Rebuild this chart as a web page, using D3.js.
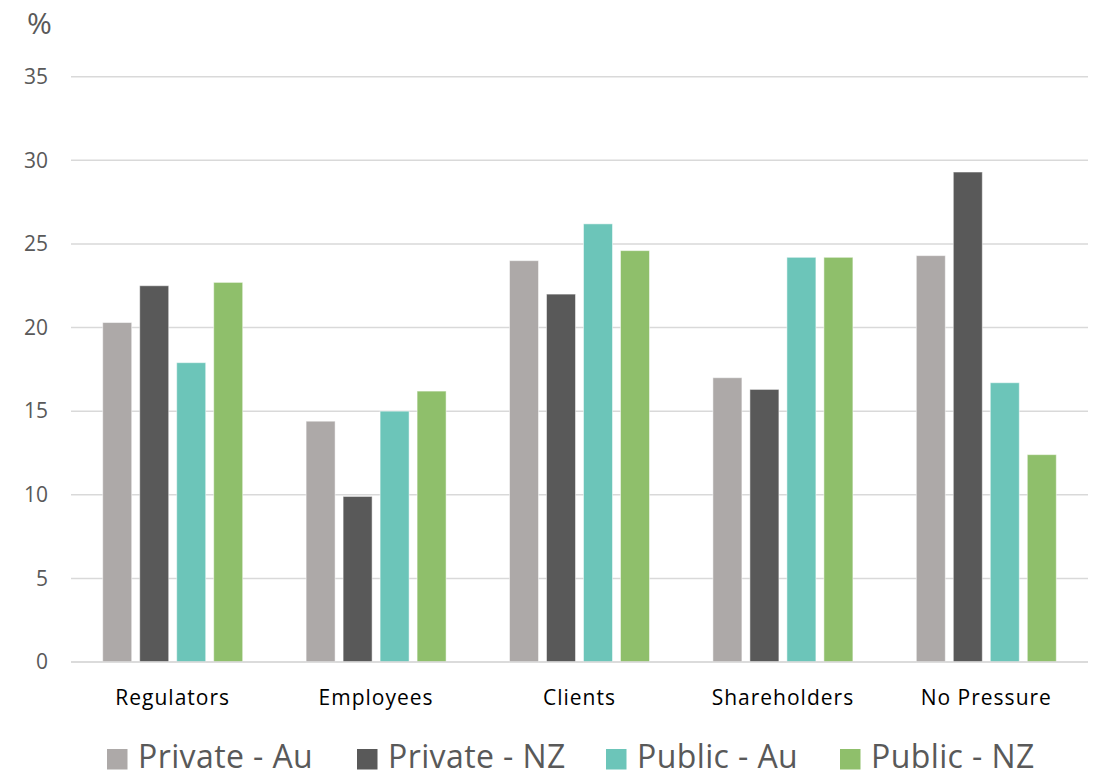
<!DOCTYPE html>
<html>
<head>
<meta charset="utf-8">
<script src="https://cdn.jsdelivr.net/npm/d3@7"></script>
<style>
  html, body { margin: 0; padding: 0; background: #fff; }
  svg { display: block; font-family: "Open Sans", "Noto Sans", sans-serif; }
</style>
</head>
<body>
<svg id="chart" width="1095" height="772"></svg>
<script>
// Survey results: share of respondents (%) naming each source of pressure
const categories = ["Regulators", "Employees", "Clients", "Shareholders", "No Pressure"];
const seriesNames = ["Private - Au", "Private - NZ", "Public - Au", "Public - NZ"];
const privateAu = [20.3, 14.4, 24.0, 17.0, 24.3];
const privateNZ = [22.5, 9.9, 22.0, 16.3, 29.3];
const publicAu  = [17.9, 15.0, 26.2, 24.2, 16.7];
const publicNZ  = [22.7, 16.2, 24.6, 24.2, 12.4];
const yTicks = [0, 5, 10, 15, 20, 25, 30, 35];
const colors = ["#ADA9A8", "#595959", "#6CC5B9", "#8FBF6B"];

const seriesValues = [privateAu, privateNZ, publicAu, publicNZ];

const svg = d3.select("#chart");
const margin = { left: 71, right: 7, top: 76.7 };
const W = 1095;
const x0 = W - margin.right;
const yBase = 662;

const x = d3.scaleBand().domain(categories).range([margin.left, x0]).paddingInner(0).paddingOuter(0);
const x1 = d3.scaleBand().domain(seriesNames)
  .range([0, x.bandwidth()]).paddingInner(0.216).paddingOuter(0.857);
const y = d3.scaleLinear().domain([0, 35]).range([yBase, margin.top]);

// gridlines
svg.append("g")
  .selectAll("line")
  .data(yTicks)
  .join("line")
  .attr("x1", margin.left).attr("x2", x0)
  .attr("y1", d => y(d)).attr("y2", d => y(d))
  .attr("stroke", "#D9D9D9").attr("stroke-width", 1.5);

// y axis labels
const yAxis = d3.axisLeft(y).tickValues(yTicks).tickSize(0).tickPadding(23);
const gy = svg.append("g").attr("transform", `translate(${margin.left},0)`).call(yAxis);
gy.select(".domain").remove();
gy.selectAll("text")
  .attr("fill", "#595959").attr("font-size", 21)
  .attr("font-family", "'Open Sans', sans-serif");

// unit label
svg.append("text").attr("x", 39.5).attr("y", 34).attr("text-anchor", "middle")
  .attr("fill", "#595959").attr("font-size", 30).text("%");

// bars
const groups = svg.append("g").selectAll("g")
  .data(categories)
  .join("g")
  .attr("transform", d => `translate(${x(d)},0)`);

groups.selectAll("rect")
  .data((c, i) => seriesNames.map((s, j) => ({ s, j, v: seriesValues[j][i] })))
  .join("rect")
  .attr("x", d => x1(d.s))
  .attr("width", x1.bandwidth())
  .attr("y", d => y(d.v))
  .attr("height", d => yBase - y(d.v))
  .attr("fill", (d) => colors[d.j])
  .attr("stroke", "#ffffff").attr("stroke-opacity", 0.5).attr("stroke-width", 1);

// baseline
svg.append("line").attr("x1", margin.left).attr("x2", x0)
  .attr("y1", yBase).attr("y2", yBase)
  .attr("stroke", "#D9D9D9").attr("stroke-width", 1.5);

// x axis labels
const xAxis = d3.axisBottom(x).tickSize(0).tickPadding(28);
const gx = svg.append("g").attr("transform", `translate(0,${yBase})`).call(xAxis);
gx.select(".domain").remove();
gx.selectAll("text")
  .attr("fill", "#000").attr("font-size", 21)
  .attr("letter-spacing", 1)
  .attr("font-family", "'Open Sans', sans-serif");

// legend
const legendX = [107, 357, 606, 840];
const legend = svg.append("g").selectAll("g")
  .data(seriesNames)
  .join("g")
  .attr("transform", (d, i) => `translate(${legendX[i]},749)`);
legend.append("rect").attr("width", 20.5).attr("height", 20.5).attr("fill", (d, i) => colors[i]);
legend.append("text").attr("x", 31).attr("y", 19)
  .attr("fill", "#595959").attr("font-size", 32).attr("letter-spacing", 0.4).text(d => d);
</script>
</body>
</html>
